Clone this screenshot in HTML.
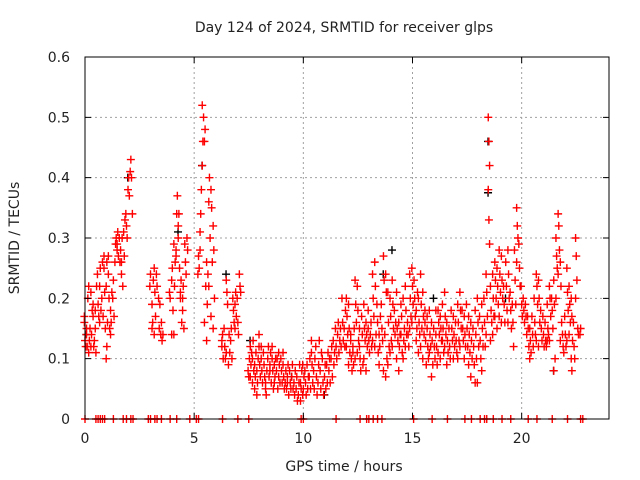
<!DOCTYPE html>
<html><head><meta charset="utf-8"><style>
html,body{margin:0;padding:0;background:#fff}
svg{display:block;font-family:"DejaVu Sans","Liberation Sans",sans-serif}
</style></head><body>
<svg id="chart" width="640" height="480" viewBox="0 0 640 480" xmlns="http://www.w3.org/2000/svg">
<rect width="640" height="480" fill="#fff"/>
<g id="grid"></g>
<g id="marks"></g>
<g id="axes"></g>
<text x="344" y="32" font-size="14" text-anchor="middle" fill="#222">Day 124 of 2024, SRMTID for receiver glps</text>
<text x="344" y="471" font-size="14" text-anchor="middle" fill="#222">GPS time / hours</text>
<text transform="translate(19,238) rotate(-90)" font-size="14" text-anchor="middle" fill="#222">SRMTID / TECUs</text>
</svg>
<script>
const xTicks=[0,5,10,15,20];
const yTicks=[0,0.1,0.2,0.3,0.4,0.5,0.6];
const yTickLabels=["0","0.1","0.2","0.3","0.4","0.5","0.6"];
const binHours=[0,0.1,0.2,0.3,0.4,0.5,0.6,0.7,0.8,0.9,1.0,1.1,1.2,1.3,1.4,1.5,1.6,1.7,1.8,1.9,2.0,2.1,2.2,
3.0,3.1,3.2,3.3,3.4,3.5,3.6,3.9,4.0,4.1,4.2,4.3,4.4,4.5,4.6,4.7,
5.2,5.3,5.4,5.5,5.6,5.7,5.8,5.9,6.3,6.4,6.5,6.6,6.7,6.8,6.9,7.0,7.1,
7.5,7.6,7.7,7.8,7.9,8.0,8.1,8.2,8.3,8.4,8.5,8.6,8.7,8.8,8.9,9.0,9.1,9.2,9.3,9.4,9.5,9.6,9.7,9.8,9.9,
10.0,10.1,10.2,10.3,10.4,10.5,10.6,10.7,10.8,10.9,11.0,11.1,11.2,11.3,11.4,11.5,11.6,11.7,11.8,11.9,
12.0,12.1,12.2,12.3,12.4,12.5,12.6,12.7,12.8,12.9,13.0,13.1,13.2,13.3,13.4,13.5,13.6,13.7,13.8,13.9,
14.0,14.1,14.2,14.3,14.4,14.5,14.6,14.7,14.8,14.9,15.0,15.1,15.2,15.3,15.4,15.5,15.6,15.7,15.8,15.9,
16.0,16.1,16.2,16.3,16.4,16.5,16.6,16.7,16.8,16.9,17.0,17.1,17.2,17.3,17.4,17.5,17.6,17.7,17.8,17.9,
18.0,18.1,18.2,18.3,18.4,18.5,18.6,18.7,18.8,18.9,19.0,19.1,19.2,19.3,19.4,19.5,19.6,19.7,19.8,19.9,
20.0,20.1,20.2,20.3,20.4,20.5,20.6,20.7,20.8,20.9,21.0,21.1,21.2,21.3,21.4,21.5,21.6,21.7,21.8,21.9,
22.0,22.1,22.2,22.3,22.4,22.5,22.6,22.7];
const binValues=[
[0.16,0.13,0.12,0.17],[0.15,0.12,0.2,0.14],[0.22,0.13,0.15,0.11],[0.21,0.14,0.18,0.12],[0.19,0.12,0.13,0.17],[0.18,0.11,0.22,0.15],[0.24,0.19,0.17],[0.22,0.25,0.18,0.16],[0.2,0.26,0.17],[0.27,0.21,0.15,0.25],[0.1,0.12,0.16,0.22,0.26],[0.24,0.2,0.15,0.27],[0.18,0.16,0.21,0.14],[0.2,0.23,0.17],[0.26,0.29,0.3],[0.29,0.31,0.27,0.28],[0.3,0.26,0.28],[0.26,0.3,0.22,0.24],[0.31,0.27,0.33],[0.34,0.32,0.3],[0.38,0.4,0.37],[0.41,0.43,0.4],[0.34],
[0.22,0.24],[0.19,0.16,0.23,0.15],[0.25,0.21,0.17,0.14],[0.24,0.22],[0.2,0.15,0.19],[0.14,0.16,0.13],[0.14],[0.21,0.2],[0.23,0.25,0.18,0.14],[0.29,0.22,0.26,0.14],[0.28,0.34,0.37,0.27],[0.32,0.34,0.25,0.3],[0.21,0.23,0.16,0.2],[0.2,0.22,0.15,0.18],[0.29,0.26,0.24],[0.3,0.28],
[0.24,0.27,0.25],[0.28,0.34,0.38,0.31],[0.42,0.46,0.5,0.52],[0.46,0.48,0.22,0.16],[0.26,0.19,0.24,0.13],[0.36,0.4,0.3,0.22],[0.38,0.35,0.26,0.17],[0.32,0.28,0.2,0.15],[0.12,0.14,0.1,0.13],[0.15,0.12,0.1],[0.23,0.21,0.19,0.11],[0.09,0.14,0.11],[0.13,0.15,0.1],[0.2,0.18,0.16],[0.19,0.21,0.17,0.15],[0.2,0.16,0.14],[0.24,0.22,0.21],
[0.08,0.07,0.1],[0.12,0.09,0.11,0.07],[0.1,0.13,0.08,0.06],[0.09,0.07,0.11,0.05],[0.08,0.06,0.1,0.04],[0.14,0.09,0.07,0.12],[0.1,0.08,0.06,0.12],[0.11,0.09,0.07],[0.06,0.04,0.08,0.05],[0.1,0.12,0.07],[0.09,0.11,0.06,0.08],[0.1,0.08,0.05,0.12],[0.09,0.07,0.1,0.06],[0.08,0.1,0.05],[0.07,0.09,0.06,0.11],[0.1,0.08,0.06],[0.09,0.07,0.05,0.11],[0.06,0.08,0.05],[0.07,0.09,0.04,0.06],[0.08,0.06,0.05],[0.07,0.09,0.05],[0.06,0.04,0.08],[0.05,0.07,0.03],[0.04,0.06,0.09],[0.03,0.05,0.08,0.06],
[0.09,0.05,0.07,0.04],[0.08,0.06,0.04],[0.09,0.05,0.07],[0.07,0.1,0.05],[0.13,0.09,0.06,0.11],[0.08,0.05,0.1],[0.12,0.07,0.04],[0.06,0.09,0.13],[0.08,0.05,0.11],[0.1,0.06,0.04],[0.07,0.09,0.05],[0.09,0.06,0.11],[0.08,0.1,0.06],[0.1,0.12,0.07],[0.13,0.09,0.11],[0.15,0.12,0.1],[0.14,0.16,0.11],[0.13,0.15,0.12],[0.2,0.16,0.13],[0.15,0.12,0.18],
[0.2,0.17,0.14,0.12],[0.19,0.15,0.11,0.09],[0.13,0.1,0.08,0.14],[0.11,0.09,0.15,0.12],[0.23,0.19,0.16,0.1],[0.22,0.18,0.13,0.11],[0.15,0.1,0.08,0.12],[0.17,0.14,0.09],[0.19,0.15,0.13,0.1],[0.16,0.14,0.12,0.08],[0.18,0.13,0.11,0.15],[0.14,0.16,0.12],[0.24,0.2,0.17,0.13],[0.26,0.22,0.14,0.12],[0.19,0.16,0.11],[0.14,0.12,0.17,0.09],[0.19,0.15,0.13],[0.27,0.23,0.14,0.08],[0.24,0.21,0.1,0.07],[0.21,0.16,0.12,0.09],
[0.2,0.17,0.13,0.11],[0.23,0.19,0.15,0.12],[0.18,0.14,0.16],[0.21,0.15,0.13,0.1],[0.16,0.12,0.14,0.08],[0.19,0.17,0.11,0.14],[0.2,0.13,0.15,0.1],[0.22,0.18,0.14,0.12],[0.16,0.14,0.12],[0.24,0.2,0.17,0.15],[0.25,0.22,0.19,0.16],[0.23,0.2,0.17],[0.18,0.15,0.21,0.13],[0.2,0.16,0.14,0.11],[0.24,0.19,0.15,0.12],[0.21,0.17,0.14,0.1],[0.16,0.13,0.09,0.18],[0.15,0.12,0.1,0.17],[0.18,0.14,0.12,0.11],[0.16,0.13,0.09,0.07],
[0.15,0.12,0.1],[0.14,0.12,0.09,0.18],[0.18,0.16,0.14,0.11],[0.17,0.15,0.13,0.1],[0.19,0.15,0.11,0.13],[0.21,0.17,0.14,0.12],[0.16,0.13,0.11,0.09],[0.15,0.12,0.1],[0.18,0.15,0.13],[0.17,0.14,0.12,0.1],[0.16,0.13,0.11],[0.19,0.16,0.13,0.1],[0.21,0.18,0.15,0.12],[0.18,0.15,0.13],[0.17,0.14,0.12,0.1],[0.19,0.15,0.12],[0.17,0.14,0.11,0.09],[0.16,0.13,0.1,0.07],[0.15,0.12,0.09],[0.18,0.14,0.1,0.06],
[0.2,0.16,0.12,0.06],[0.17,0.13,0.1],[0.19,0.15,0.12,0.08],[0.2,0.16,0.12],[0.24,0.21,0.17,0.14],[0.5,0.46,0.42,0.38,0.33,0.29],[0.22,0.18,0.16,0.13],[0.24,0.2,0.17,0.14],[0.26,0.23,0.2,0.17],[0.25,0.22,0.19,0.15],[0.28,0.24,0.21,0.17],[0.27,0.23,0.2,0.16],[0.22,0.19,0.16],[0.26,0.22,0.18],[0.28,0.24,0.2,0.16],[0.21,0.18,0.15],[0.19,0.16,0.12],[0.28,0.23,0.19],[0.35,0.32,0.3,0.26],[0.29,0.25,0.22],
[0.22,0.19,0.17],[0.2,0.18,0.16],[0.19,0.17,0.14],[0.17,0.15,0.12],[0.15,0.13,0.11,0.1],[0.17,0.14,0.12],[0.2,0.16,0.14],[0.24,0.22,0.19,0.13],[0.23,0.2,0.16,0.12],[0.18,0.15,0.13],[0.17,0.14,0.12],[0.16,0.13,0.12],[0.19,0.15,0.14,0.13],[0.22,0.2,0.17,0.13],[0.2,0.18,0.15],[0.23,0.19,0.1,0.08],[0.3,0.27,0.25,0.2],[0.34,0.32,0.28,0.24],[0.26,0.22,0.16,0.13],[0.14,0.12,0.11],
[0.17,0.14,0.12],[0.25,0.21,0.18,0.13],[0.22,0.19,0.16,0.14],[0.2,0.17,0.13,0.1,0.08],[0.16,0.12,0.1],[0.3,0.27,0.23,0.2],[0.15,0.14],[0.14,0.15]];
const zeroHours=[0,0.5,0.6,0.7,0.8,0.9,1.3,1.75,1.9,2.1,2.2,2.9,3.0,3.2,3.3,3.5,3.9,4.2,4.8,5.1,5.2,6.3,7.0,7.5,9.9,10.0,11.5,12.6,12.9,13.0,13.2,13.4,13.6,15.05,15.9,16.6,17.4,17.7,18.1,18.3,18.4,18.7,19.1,19.5,20.3,20.7,21.4,22.1,22.7,22.8];
const blackHours=[0.1,2.0,4.3,5.4,6.5,7.6,9.5,11.0,13.7,14.1,16.0,18.5,18.5,19.3,21.5];
const blackValues=[0.14,0.4,0.31,0.42,0.24,0.13,0.07,0.04,0.24,0.28,0.2,0.46,0.375,0.2,0.08];

const L=85,R=609,T=57,B=419;
const xs=h=>L+(h/24)*(R-L);
const ys=v=>B-(v/0.6)*(B-T);
const NS="http://www.w3.org/2000/svg";
function mk(parent,tag,attrs){const e=document.createElementNS(NS,tag);for(const k in attrs)e.setAttribute(k,attrs[k]);parent.appendChild(e);return e;}
const grid=document.getElementById('grid'),axes=document.getElementById('axes'),marks=document.getElementById('marks');
xTicks.forEach((t,i)=>{const x=xs(t);
 if(t>0){const g=mk(grid,'line',{x1:x,x2:x,y1:T,y2:B,stroke:'#a0a0a0','stroke-dasharray':'2,3'});}
 const tk=mk(axes,'path',{d:`M${x} ${B}v-6M${x} ${T}v6`,stroke:'#000'});
 const lb=mk(axes,'text',{x:x,y:B+24,'font-size':14,'text-anchor':'middle',fill:'#222'});lb.textContent=String(t);
 });
yTicks.forEach((t,i)=>{const y=ys(t);
 if(t>0&&t<0.6){const g=mk(grid,'line',{x1:L,x2:R,y1:y,y2:y,stroke:'#a0a0a0','stroke-dasharray':'2,3'});}
 const tk=mk(axes,'path',{d:`M${L} ${y}h6M${R} ${y}h-6`,stroke:'#000'});
 const lb=mk(axes,'text',{x:L-15,y:y+5,'font-size':14,'text-anchor':'end',fill:'#222'});lb.textContent=yTickLabels[i];
 });
const fr=mk(axes,'rect',{x:L,y:T,width:R-L,height:B-T,fill:'none',stroke:'#000'});

function cross(h,v,col,name){const x=xs(h),y=ys(v);
 const p=mk(marks,'path',{d:`M${x-4} ${y}h8M${x} ${y-4}v8`,stroke:col,'stroke-width':1.4});
 
 }
blackHours.forEach((h,i)=>cross(h-0.04,blackValues[i],'#000','black-point'));
binHours.forEach((h,i)=>binValues[i].forEach((v,j)=>cross(h+(j%3-1)*0.03,v,'#f00','red-point')));
zeroHours.forEach(h=>cross(h,0,'#f00','zero-point'));
</script>
</body></html>
